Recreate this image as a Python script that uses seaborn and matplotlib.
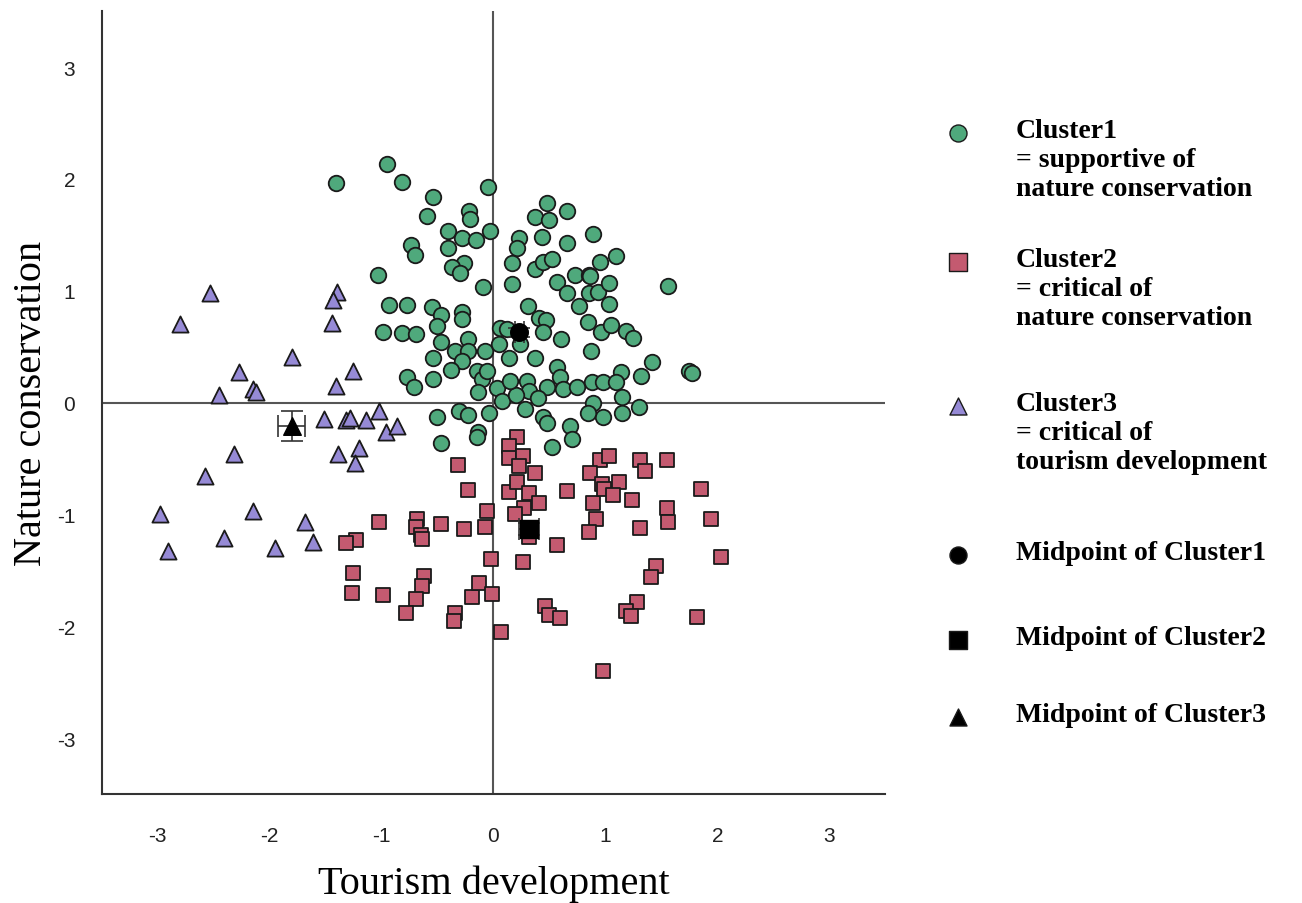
import numpy as np
import pandas as pd
import matplotlib
matplotlib.use('Agg')
import matplotlib.pyplot as plt
import seaborn as sns

# ── Cluster scores ───────────────────────────────────
c1_x = [-0.95, -1.41, -0.82, -0.05, -0.54, -0.59, -0.22, -0.21, -0.41, -0.28,
        -0.16, -0.03, -0.41, -0.74, -0.70, 0.23, 0.21, 0.17, 0.43, 0.48,
        0.37, 0.50, 0.66, 0.66, 0.89, -0.26, -0.37, -0.30, -1.03, -0.09,
        0.17, 0.37, 0.44, 0.52, 0.57, 0.73, 0.85, 0.95, 0.66, 0.85,
        0.93, 0.76, 0.84, 0.96, -0.93, -0.77, -0.55, -0.47, -0.28, -0.28,
        -0.99, -0.82, -0.69, -0.50, -0.47, -0.54, -0.34, -0.23, -0.23, -0.28,
        -0.08, 0.06, 0.05, 0.14, 0.31, 0.41, 0.47, 0.44, 0.24, 0.37,
        0.87, -0.38, -0.54, -0.77, -0.71, -0.15, -0.10, -0.14, 0.03, 0.08,
        0.57, 0.59, 0.30, 0.32, 0.48, 0.62, 0.75, 0.88, 0.98, 0.40,
        1.09, 0.86, 1.03, 1.03, 1.05, 1.18, 1.25, 1.56, 1.42, 1.75,
        1.14, 1.32, 1.09, 0.89, 1.15, 1.30, 0.98, 0.84, 1.15, -0.50,
        -0.31, -0.23, -0.04, -0.14, -0.15, -0.47, 0.28, 0.44, 0.48, 0.68,
        0.70, 0.52, 0.12, 0.20, -0.06, 0.60, 0.15, 1.77]
c1_y = [2.13, 1.96, 1.97, 1.93, 1.84, 1.67, 1.71, 1.64, 1.53, 1.47,
        1.45, 1.53, 1.38, 1.41, 1.32, 1.47, 1.38, 1.25, 1.48, 1.78,
        1.66, 1.63, 1.71, 1.43, 1.51, 1.25, 1.21, 1.16, 1.14, 1.03,
        1.06, 1.19, 1.26, 1.28, 1.08, 1.14, 1.14, 1.26, 0.98, 0.98,
        0.99, 0.86, 0.72, 0.63, 0.87, 0.87, 0.85, 0.78, 0.81, 0.75,
        0.63, 0.62, 0.61, 0.68, 0.54, 0.40, 0.46, 0.57, 0.46, 0.37,
        0.46, 0.67, 0.52, 0.40, 0.86, 0.76, 0.74, 0.63, 0.52, 0.40,
        0.46, 0.29, 0.21, 0.23, 0.14, 0.28, 0.21, 0.09, 0.13, 0.01,
        0.32, 0.23, 0.19, 0.10, 0.14, 0.12, 0.14, 0.18, 0.18, 0.04,
        1.31, 1.13, 1.07, 0.88, 0.69, 0.64, 0.58, 1.04, 0.36, 0.28,
        0.27, 0.24, 0.18, 0.00, 0.05, -0.04, -0.13, -0.09, -0.09, -0.13,
        -0.08, -0.11, -0.09, -0.26, -0.31, -0.36, -0.06, -0.13, -0.18, -0.21,
        -0.33, -0.40, 0.66, 0.07, 0.28, 0.57, 0.19, 0.26]

c2_x = [0.21, 0.14, 0.14, 0.26, 0.23, 0.37, -0.32, -0.23, 0.14, 0.21,
        0.32, 0.41, 0.27, 0.19, -0.06, -0.08, -0.26, -0.47, -0.68, -0.69,
        -0.65, -0.64, -1.02, -1.23, -1.32, -1.25, -1.26, -0.99, -0.62, -0.64,
        -0.69, -0.78, -0.34, -0.35, -0.19, -0.13, -0.01, -0.02, 0.07, 0.26,
        0.32, 0.57, 0.66, 0.46, 0.50, 0.59, 0.95, 0.86, 0.97, 0.89,
        0.92, 0.85, 0.98, 1.03, 1.31, 1.55, 1.35, 0.99, 1.12, 1.07,
        1.24, 1.55, 1.56, 1.31, 1.85, 1.94, 2.03, 1.45, 1.41, 1.28,
        1.18, 1.23, 1.82]
c2_y = [-0.31, -0.39, -0.50, -0.48, -0.57, -0.63, -0.56, -0.78, -0.80, -0.71,
        -0.81, -0.90, -0.94, -1.00, -0.97, -1.11, -1.13, -1.09, -1.04, -1.11,
        -1.18, -1.22, -1.07, -1.23, -1.26, -1.52, -1.70, -1.72, -1.55, -1.64,
        -1.76, -1.88, -1.88, -1.95, -1.74, -1.61, -1.71, -1.40, -2.05, -1.43,
        -1.20, -1.27, -0.79, -1.82, -1.90, -1.93, -0.51, -0.63, -0.73, -0.90,
        -1.04, -1.16, -2.40, -0.48, -0.51, -0.51, -0.61, -0.77, -0.71, -0.83,
        -0.87, -0.94, -1.07, -1.12, -0.77, -1.04, -1.38, -1.46, -1.56, -1.78,
        -1.86, -1.91, -1.92]

c3_x = [-2.53, -2.80, -1.40, -1.43, -1.44, -1.80, -2.27, -1.25, -1.41, -2.45,
        -2.15, -2.12, -1.51, -1.32, -1.28, -1.14, -1.02, -0.96, -0.86, -1.20,
        -1.39, -1.24, -2.32, -2.58, -2.98, -2.15, -1.68, -2.41, -2.91, -1.95,
        -1.61]
c3_y = [0.98, 0.70, 0.99, 0.92, 0.71, 0.41, 0.27, 0.28, 0.15, 0.07,
        0.12, 0.09, -0.15, -0.16, -0.14, -0.16, -0.08, -0.26, -0.21, -0.41,
        -0.46, -0.54, -0.46, -0.66, -1.00, -0.97, -1.07, -1.21, -1.33, -1.30,
        -1.25]

# Cluster midpoints with their error bars
mid_x = [0.23, 0.32, -1.80]
mid_y = [0.63, -1.13, -0.21]
mid_xerr = [0.04, 0.09, 0.12]
mid_yerr = [0.04, 0.05, 0.13]

legend_labels = [
    'Cluster1\n= supportive of\nnature conservation',
    'Cluster2\n= critical of\nnature conservation',
    'Cluster3\n= critical of\ntourism development',
    'Midpoint of Cluster1',
    'Midpoint of Cluster2',
    'Midpoint of Cluster3',
]

green = '#4fa97c'
red = '#c45a70'
purple = '#968ad6'
markers = ['o', 's', '^']

sns.set_style('white')
plt.rcParams['font.family'] = ['Liberation Sans', 'DejaVu Sans']
plt.rcParams['axes.unicode_minus'] = False

fig = plt.figure(figsize=(13.02, 9.04), dpi=100)
ax = fig.add_axes([0.078, 0.1206, 0.602, 0.866])

# crosshair through origin
ax.axhline(0, color='#555555', linewidth=1.5, zorder=1)
ax.axvline(0, color='#555555', linewidth=1.5, zorder=1)

df1 = pd.DataFrame({'x': c1_x, 'y': c1_y})
df2 = pd.DataFrame({'x': c2_x, 'y': c2_y})
df3 = pd.DataFrame({'x': c3_x, 'y': c3_y})

sns.scatterplot(data=df1, x='x', y='y', marker='o', s=125, color=green,
                edgecolor='#1a1a1a', linewidth=1.3, ax=ax, zorder=3)
sns.scatterplot(data=df2, x='x', y='y', marker='s', s=100, color=red,
                edgecolor='#1a1a1a', linewidth=1.3, ax=ax, zorder=3)
sns.scatterplot(data=df3, x='x', y='y', marker='^', s=135, color=purple,
                edgecolor='#1a1a1a', linewidth=1.3, ax=ax, zorder=3)

# midpoints with error bars
for i in range(3):
    ax.errorbar(mid_x[i], mid_y[i], xerr=mid_xerr[i], yerr=mid_yerr[i],
                fmt='none', ecolor='#333333', elinewidth=1.2, capsize=8,
                capthick=1.2, zorder=4)
    ax.scatter(mid_x[i], mid_y[i], marker=markers[i], s=160, color='black',
               zorder=5)

ax.set_xlim(-3.5, 3.5)
ax.set_ylim(-3.5, 3.5)
ax.set_xticks([-3, -2, -1, 0, 1, 2, 3])
ax.set_yticks([-3, -2, -1, 0, 1, 2, 3])
for s in ['top', 'right']:
    ax.spines[s].set_visible(False)
for s in ['left', 'bottom']:
    ax.spines[s].set_color('#333333')
    ax.spines[s].set_linewidth(1.5)
ax.tick_params(axis='both', direction='out', length=9, width=1.3,
               color='#333333', labelsize=15, labelcolor='#222222')
ax.tick_params(axis='x', pad=14)
ax.tick_params(axis='y', pad=10)

ax.set_xlabel('Tourism development', family=['Liberation Serif'],
              fontsize=29, labelpad=14, color='black')
ax.set_ylabel('Nature conservation', family=['Liberation Serif'],
              fontsize=29, labelpad=5, color='black')

# ── Legend drawn on an overlay axes (pixel units) ───
leg = fig.add_axes([0, 0, 1, 1])
leg.set_xlim(0, 1302)
leg.set_ylim(904, 0)
leg.axis('off')
entry_y = [134, 263, 407, 556, 641, 718]
leg_colors = [green, red, purple, 'black', 'black', 'black']
leg_markers = ['o', 's', '^', 'o', 's', '^']
for yy, lab, col, mk in zip(entry_y, legend_labels, leg_colors, leg_markers):
    leg.scatter(958, yy, marker=mk, s=150, color=col, edgecolor='#1a1a1a',
                linewidth=1.0)
    leg.text(1016, yy - 15, lab, family=['Liberation Serif'],
             fontweight='bold', fontsize=20, va='top', ha='left',
             linespacing=1.22, color='black')

plt.savefig('out.png', dpi=100)
plt.close()
